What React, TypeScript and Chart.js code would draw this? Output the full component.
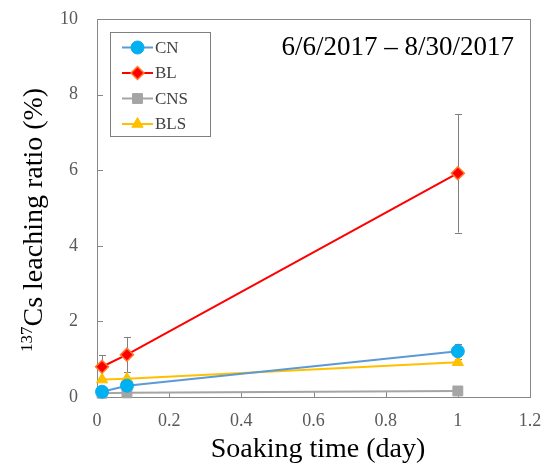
import React, { useEffect, useRef } from "react";
import { Chart, registerables } from "chart.js";

Chart.register(...registerables);

// ---- Data ----
const X_DAYS = [0.014, 0.083, 1];
const CN = [0.14, 0.3, 1.21];
const CN_ERR = [0, 0, 0.2];
const BL = [0.8, 1.12, 5.92];
const BL_ERR = [0.3, 0.47, 1.57];
const CNS = [0.1, 0.11, 0.16];
const CNS_ERR = [0, 0, 0];
const BLS = [0.46, 0.48, 0.92];
const BLS_ERR = [0, 0, 0];
const SERIES_NAMES = ["CN", "BL", "CNS", "BLS"];
const TITLE_TEXT = "6/6/2017 \u2013 8/30/2017";
const X_TITLE = "Soaking time (day)";
const Y_TITLE_SUP = "137";
const Y_TITLE_MAIN = "Cs leaching ratio (%)";

const SERIF = '"Liberation Serif", "Times New Roman", serif';
const AXIS_COLOR = "#878787";
const TICK_COLOR = "#595959";

function toPoints(ys: number[]) {
  return ys.map((y, i) => ({ x: X_DAYS[i], y }));
}

function drawMarker(ctx: CanvasRenderingContext2D, style: string, x: number, y: number, r: number, fill: string, stroke: string, bw: number) {
  ctx.save();
  ctx.beginPath();
  if (style === "circle") {
    ctx.arc(x, y, r, 0, Math.PI * 2);
  } else if (style === "rectRot") {
    ctx.moveTo(x, y - r);
    ctx.lineTo(x + r, y);
    ctx.lineTo(x, y + r);
    ctx.lineTo(x - r, y);
    ctx.closePath();
  } else if (style === "rect") {
    const s = r * Math.SQRT1_2;
    ctx.rect(x - s, y - s, 2 * s, 2 * s);
  } else if (style === "triangle") {
    const h = r * 1.5;
    const half = (r * Math.sqrt(3)) / 2;
    ctx.moveTo(x, y - h * (2 / 3));
    ctx.lineTo(x + half, y + h / 3);
    ctx.lineTo(x - half, y + h / 3);
    ctx.closePath();
  }
  ctx.fillStyle = fill;
  ctx.fill();
  if (bw > 0) {
    ctx.strokeStyle = stroke;
    ctx.lineWidth = bw;
    ctx.stroke();
  }
  ctx.restore();
}

const framePlugin = {
  id: "frameAndErrors",
  beforeDatasetsDraw(chart: any) {
    const { ctx, chartArea: a, scales } = chart;
    const xs = scales.x;
    const ys = scales.y;
    ctx.save();
    ctx.strokeStyle = AXIS_COLOR;
    ctx.lineWidth = 1;
    ctx.strokeRect(Math.round(a.left) + 0.5, Math.round(a.top) + 0.5, Math.round(a.right - a.left), Math.round(a.bottom - a.top));
    // inward ticks
    ctx.beginPath();
    ys.ticks.forEach((t: any) => {
      const py = Math.round(ys.getPixelForValue(t.value)) + 0.5;
      ctx.moveTo(a.left, py);
      ctx.lineTo(a.left + 6, py);
    });
    xs.ticks.forEach((t: any) => {
      const px = Math.round(xs.getPixelForValue(t.value)) + 0.5;
      ctx.moveTo(px, a.bottom);
      ctx.lineTo(px, a.bottom - 5);
    });
    ctx.stroke();
    // error bars
    ctx.strokeStyle = "#7f7f7f";
    ctx.lineWidth = 1;
    chart.data.datasets.forEach((ds: any) => {
      const errs: number[] = ds.errors || [];
      ds.data.forEach((p: any, i: number) => {
        const e = errs[i] || 0;
        if (!e) return;
        const px = Math.round(xs.getPixelForValue(p.x)) + 0.5;
        const top = ys.getPixelForValue(p.y + e);
        const bot = ys.getPixelForValue(p.y - e);
        ctx.beginPath();
        ctx.moveTo(px, top);
        ctx.lineTo(px, bot);
        ctx.moveTo(px - 3.5, Math.round(top) + 0.5);
        ctx.lineTo(px + 3.5, Math.round(top) + 0.5);
        ctx.moveTo(px - 3.5, Math.round(bot) + 0.5);
        ctx.lineTo(px + 3.5, Math.round(bot) + 0.5);
        ctx.stroke();
      });
    });
    ctx.restore();
  },
  afterDraw(chart: any) {
    const { ctx } = chart;
    ctx.save();
    // in-plot date title
    ctx.fillStyle = "#000000";
    ctx.font = `27px ${SERIF}`;
    ctx.textAlign = "right";
    ctx.textBaseline = "alphabetic";
    ctx.fillText(TITLE_TEXT, 514, 55);

    // x-axis title
    ctx.font = `28px ${SERIF}`;
    ctx.textAlign = "center";
    ctx.fillText(X_TITLE, 318, 457);

    // y-axis title with superscript
    ctx.save();
    ctx.translate(42, 352);
    ctx.rotate(-Math.PI / 2);
    ctx.textAlign = "left";
    ctx.font = `17px ${SERIF}`;
    const supW = ctx.measureText(Y_TITLE_SUP).width;
    ctx.fillText(Y_TITLE_SUP, 0, -10);
    ctx.font = `28px ${SERIF}`;
    ctx.fillText(Y_TITLE_MAIN, supW, 0);
    ctx.restore();

    // legend
    const lx = 110.5, ly = 32.5, lw = 100, lh = 104;
    ctx.strokeStyle = "#7f7f7f";
    ctx.lineWidth = 1;
    ctx.fillStyle = "#ffffff";
    ctx.fillRect(lx, ly, lw, lh);
    ctx.strokeRect(lx, ly, lw, lh);
    ctx.font = `17px ${SERIF}`;
    ctx.textAlign = "left";
    ctx.textBaseline = "middle";
    chart.data.datasets.forEach((ds: any, i: number) => {
      const y = 47.5 + i * 25.5;
      ctx.strokeStyle = ds.borderColor;
      ctx.lineWidth = ds.borderWidth;
      ctx.beginPath();
      ctx.moveTo(122, y);
      ctx.lineTo(153, y);
      ctx.stroke();
      drawMarker(ctx, ds.pointStyle, 137.5, y, ds.pointRadius, ds.pointBackgroundColor, ds.pointBorderColor, ds.pointBorderWidth);
      ctx.fillStyle = "#404040";
      ctx.fillText(ds.label, 155, y + 1);
    });
    ctx.restore();
  },
};

function zeroPad(s: any) {
  s.paddingTop = 0;
  s.paddingBottom = 0;
  s.paddingLeft = 0;
  s.paddingRight = 0;
}

export default function App() {
  const ref = useRef<HTMLCanvasElement | null>(null);
  useEffect(() => {
    let chart: Chart | null = null;
    let cancelled = false;
    const build = () => {
      if (cancelled || !ref.current) return;
      chart = new Chart(ref.current, {
        type: "line",
        data: {
          datasets: [
            {
              label: SERIES_NAMES[0],
              data: toPoints(CN),
              errors: CN_ERR,
              borderColor: "#5B9BD5",
              borderWidth: 2,
              pointStyle: "circle",
              pointRadius: 6.5,
              pointBackgroundColor: "#00B0F0",
              pointBorderColor: "#00B0F0",
              pointBorderWidth: 1,
              clip: false,
            } as any,
            {
              label: SERIES_NAMES[1],
              data: toPoints(BL),
              errors: BL_ERR,
              borderColor: "#FF0000",
              borderWidth: 2,
              pointStyle: "rectRot",
              pointRadius: 6.5,
              pointBackgroundColor: "#FF0000",
              pointBorderColor: "#FF7A2A",
              pointBorderWidth: 1.5,
              clip: false,
            } as any,
            {
              label: SERIES_NAMES[2],
              data: toPoints(CNS),
              errors: CNS_ERR,
              borderColor: "#A5A5A5",
              borderWidth: 2,
              pointStyle: "rect",
              pointRadius: 7,
              pointBackgroundColor: "#A5A5A5",
              pointBorderColor: "#A5A5A5",
              pointBorderWidth: 1,
              clip: false,
            } as any,
            {
              label: SERIES_NAMES[3],
              data: toPoints(BLS),
              errors: BLS_ERR,
              borderColor: "#FFC000",
              borderWidth: 2,
              pointStyle: "triangle",
              pointRadius: 6.5,
              pointBackgroundColor: "#FFC000",
              pointBorderColor: "#FFC000",
              pointBorderWidth: 1,
              clip: false,
            } as any,
          ],
        },
        options: {
          animation: false,
          responsive: false,
          layout: { padding: { top: 19, right: 16, left: 0, bottom: 0 } },
          plugins: { legend: { display: false }, tooltip: { enabled: false } },
          scales: {
            x: {
              type: "linear",
              min: 0,
              max: 1.2,
              ticks: {
                stepSize: 0.2,
                color: TICK_COLOR,
                font: { family: SERIF, size: 18 },
                padding: 13,
                callback: (v: any) => String(Math.round(Number(v) * 10) / 10),
                maxRotation: 0,
              },
              grid: { display: false, drawTicks: false },
              border: { display: false },
              afterFit: (s: any) => {
                s.height = 68;
                zeroPad(s);
              },
            },
            y: {
              type: "linear",
              min: 0,
              max: 10,
              ticks: {
                stepSize: 2,
                color: TICK_COLOR,
                font: { family: SERIF, size: 18 },
                padding: 19,
              },
              grid: { display: false, drawTicks: false },
              border: { display: false },
              afterFit: (s: any) => {
                s.width = 97;
                zeroPad(s);
              },
            },
          },
        } as any,
        plugins: [framePlugin as any],
      });
    };
    const fontsApi: any = (document as any).fonts;
    if (fontsApi && fontsApi.load) {
      Promise.all([
        fontsApi.load(`18px "Liberation Serif"`),
        fontsApi.load(`28px "Liberation Serif"`),
      ])
        .catch(() => null)
        .then(build);
    } else {
      build();
    }
    return () => {
      cancelled = true;
      if (chart) chart.destroy();
    };
  }, []);
  return (
    <div style={{ position: "fixed", left: 0, top: 0, width: 546, height: 465, background: "#ffffff" }}>
      <canvas ref={ref} width={546} height={465} style={{ width: 546, height: 465, display: "block" }} />
    </div>
  );
}
